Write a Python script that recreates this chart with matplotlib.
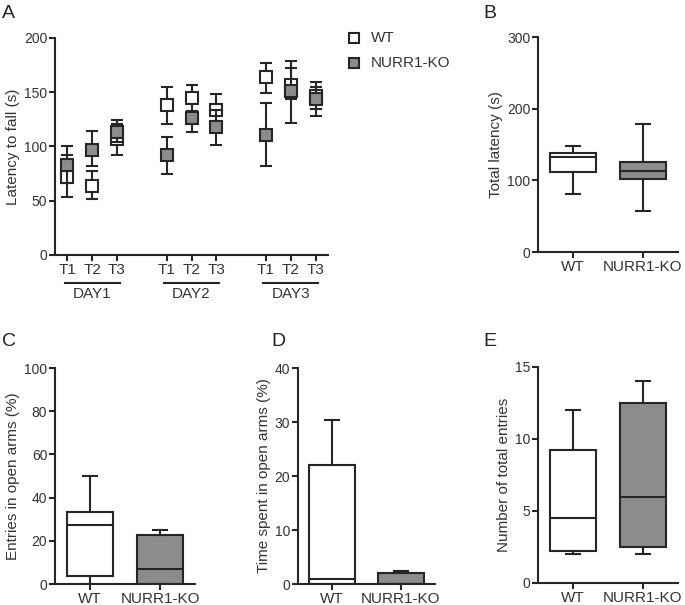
"""Rotarod latency and elevated plus maze, WT vs NURR1-KO (panels A-E)."""
import matplotlib
matplotlib.use("Agg")
import matplotlib.pyplot as plt
import matplotlib.transforms as mtransforms
from matplotlib.lines import Line2D

plt.rcParams["font.family"] = ["Liberation Sans", "DejaVu Sans"]

DARK = "#262626"
TXT = "#333333"
GRAY = "#8c8c8c"
LW = 1.5

# ---- panel A: latency to fall per trial (mean with error bars)
trials = ["T1", "T2", "T3"] * 3
trial_pos = [1, 2, 3, 5, 6, 7, 9, 10, 11]
days = ["DAY1", "DAY2", "DAY3"]
wt_mean = [72, 64, 107, 138, 145, 134, 164, 157, 147]
wt_lo = [53, 52, 92, 121, 133, 122, 149, 144, 135]
wt_hi = [92, 77, 121, 155, 157, 148, 177, 179, 159]
ko_mean = [83, 97, 113, 92, 126, 118, 111, 151, 144]
ko_lo = [66, 82, 104, 75, 113, 101, 82, 122, 128]
ko_hi = [100, 114, 124, 109, 139, 134, 140, 172, 155]

# ---- panels B-E: box plots (whislo, q1, med, q3, whishi)
groups = ["WT", "NURR1-KO"]
total_latency = [[81, 112, 133, 138, 148], [57, 102, 113, 126, 178]]
entries_open = [[0, 3.5, 27.5, 33.5, 50], [0, 0, 7, 22.5, 25]]
time_open = [[0, 0, 1, 22, 30.3], [0, 0, 0, 2, 2.5]]
total_entries = [[2, 2.25, 4.5, 9.25, 12], [2, 2.5, 6, 12.5, 14]]

W, H = 685, 605
fig = plt.figure(figsize=(W / 100, H / 100), dpi=100)


def add_ax(left, right, top, bottom):
    return fig.add_axes([left / W, 1 - bottom / H, (right - left) / W, (bottom - top) / H])


def style(ax):
    for s in ("top", "right"):
        ax.spines[s].set_visible(False)
    for s in ("left", "bottom"):
        ax.spines[s].set_linewidth(LW)
        ax.spines[s].set_color(DARK)
    ax.tick_params(width=LW, length=4, color=DARK, pad=1.5, labelcolor=TXT)
    ax.tick_params(axis="y", labelsize=10)
    ax.tick_params(axis="x", labelsize=11)


def box_panel(ax, data, ylim, yticks, ylabel):
    stats = [dict(whislo=d[0], q1=d[1], med=d[2], q3=d[3], whishi=d[4], label=g)
             for d, g in zip(data, groups)]
    bp = ax.bxp(stats, positions=[1, 2], widths=0.67, showfliers=False,
                patch_artist=True, capwidths=0.2,
                boxprops=dict(linewidth=LW, edgecolor=DARK),
                medianprops=dict(linewidth=LW, color=DARK),
                whiskerprops=dict(linewidth=LW, color=DARK),
                capprops=dict(linewidth=LW, color=DARK))
    for patch, fc in zip(bp["boxes"], ["white", GRAY]):
        patch.set_facecolor(fc)
    ax.set_xlim(0.5, 2.5)
    ax.set_ylim(*ylim)
    ax.set_yticks(yticks)
    ax.set_xticks([1, 2])
    ax.set_xticklabels(groups)
    ax.set_ylabel(ylabel, fontsize=11, color=TXT, labelpad=3)
    style(ax)


# ---- A
axA = add_ax(55, 328, 38, 255)
axA.errorbar(trial_pos, wt_mean,
             yerr=[[m - l for m, l in zip(wt_mean, wt_lo)], [h - m for m, h in zip(wt_mean, wt_hi)]],
             fmt="s", ms=9, mfc="white", mec=DARK, mew=LW, ecolor=DARK, elinewidth=LW,
             capsize=4.5, capthick=LW, zorder=3)
axA.errorbar(trial_pos, ko_mean,
             yerr=[[m - l for m, l in zip(ko_mean, ko_lo)], [h - m for m, h in zip(ko_mean, ko_hi)]],
             fmt="s", ms=9, mfc=GRAY, mec=DARK, mew=LW, ecolor=DARK, elinewidth=LW,
             capsize=4.5, capthick=LW, zorder=4)
axA.set_xlim(0.5, 11.5)
axA.set_ylim(0, 200)
axA.set_yticks([0, 50, 100, 150, 200])
axA.set_xticks(trial_pos)
axA.set_xticklabels(trials)
axA.set_ylabel("Latency to fall (s)", fontsize=11, color=TXT, labelpad=3)
style(axA)
trans = mtransforms.blended_transform_factory(axA.transData, axA.transAxes)
for i, d in enumerate(days):
    x0, x1 = trial_pos[3 * i], trial_pos[3 * i + 2]
    axA.add_line(Line2D([x0 - 0.1, x1 + 0.1], [-0.13, -0.13], transform=trans,
                        color=DARK, lw=LW, clip_on=False))
    axA.text((x0 + x1) / 2, -0.178, d, transform=trans, ha="center", va="center",
             fontsize=11, color=TXT)

# legend for A
for y, fc, lab in [(38, "white", "WT"), (63, GRAY, "NURR1-KO")]:
    fig.add_artist(Line2D([354 / W], [1 - y / H], marker="s", ms=7, mfc=fc, mec=DARK,
                          mew=LW, transform=fig.transFigure))
    fig.text(371 / W, 1 - y / H, lab, ha="left", va="center", fontsize=11, color=TXT)

# ---- B-E
axB = add_ax(538, 678, 37, 252)
box_panel(axB, total_latency, (0, 300), [0, 100, 200, 300], "Total latency (s)")
axC = add_ax(55, 195, 368, 584)
box_panel(axC, entries_open, (0, 100), [0, 20, 40, 60, 80, 100], "Entries in open arms (%)")
axD = add_ax(298, 435, 368, 584)
box_panel(axD, time_open, (0, 40), [0, 10, 20, 30, 40], "Time spent in open arms (%)")
axE = add_ax(538, 678, 367, 583)
box_panel(axE, total_entries, (0, 15), [0, 5, 10, 15], "Number of total entries")

for lab, x, y in [("A", 2, 13), ("B", 483, 13), ("C", 2, 342), ("D", 271, 342), ("E", 483, 342)]:
    fig.text(x / W, 1 - y / H, lab, ha="left", va="center", fontsize=14, color="#222222")

fig.savefig("out.png", dpi=100)
